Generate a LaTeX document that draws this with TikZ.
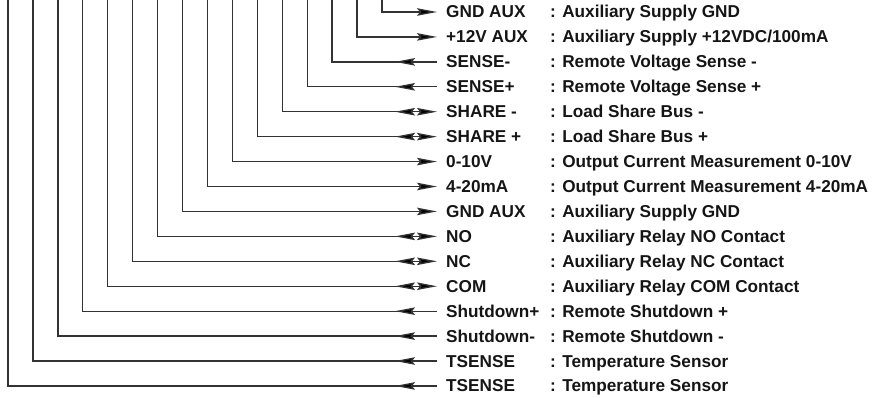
\documentclass[tikz,border=0pt]{standalone}
\usepackage{fontspec}
\setmainfont{Liberation Sans}
\usetikzlibrary{arrows.meta}
\definecolor{wire}{HTML}{333333}
\definecolor{txt}{HTML}{151515}
\tikzset{
  wireline/.style={draw=wire, line width=1.3pt},
  tipR/.style={-{Stealth[length=20pt,width=7.5pt,inset=3pt,fill=black]}},
  pinname/.style={anchor=base west, inner sep=0pt, text=txt, font=\fontsize{17.2}{19}\selectfont\bfseries},
  pindesc/.style={anchor=base west, inner sep=0pt, text=txt, font=\fontsize{17.2}{19}\selectfont\bfseries},
}
\newcommand{\rowspacing}{24.93}
\begin{document}
\begin{tikzpicture}[x=1pt,y=1pt]
\useasboundingbox (0,0) rectangle (879,-398);
\foreach \i/\nm/\ds/\kind in {
 0/GND AUX/: Auxiliary Supply GND/R,
 1/+12V AUX/: Auxiliary Supply +12VDC\slash 100mA/R,
 2/SENSE-/: Remote Voltage Sense -/L,
 3/SENSE+/: Remote Voltage Sense +/L,
 4/SHARE -/: Load Share Bus -/D,
 5/SHARE +/: Load Share Bus +/D,
 6/0-10V/: Output Current Measurement 0-10V/R,
 7/4-20mA/: Output Current Measurement 4-20mA/R,
 8/GND AUX/: Auxiliary Supply GND/R,
 9/NO/: Auxiliary Relay NO Contact/D,
 10/NC/: Auxiliary Relay NC Contact/D,
 11/COM/: Auxiliary Relay COM Contact/D,
 12/Shutdown+/: Remote Shutdown +/L,
 13/Shutdown-/: Remote Shutdown -/L,
 14/TSENSE/: Temperature Sensor/L,
 15/TSENSE/: Temperature Sensor/L}
{
  \pgfmathsetmacro{\yy}{-(12+\rowspacing*\i)}
  \pgfmathsetmacro{\xx}{382-\rowspacing*\i}
  \coordinate (top\i) at (\xx,0);
  \coordinate (end\i) at (437,\yy);
  \coordinate (ltip\i) at (395,\yy);
  \coordinate (lbase\i) at (416,\yy);
  \node[pinname] (name\i) at (446,\yy-6) {\nm};
  \node[pindesc] (desc\i) at (550,\yy-6) {\ds};
  \if R\kind
    \draw[wireline,tipR] (top\i) |- (end\i);
  \fi
  \if L\kind
    \draw[wireline] (top\i) |- (end\i);
    \draw[wireline,tipR] (lbase\i) -- (ltip\i);
  \fi
  \if D\kind
    \draw[wireline,tipR] (top\i) |- (end\i);
    \draw[wireline,tipR] (lbase\i) -- (ltip\i);
  \fi
}
\end{tikzpicture}
\end{document}
